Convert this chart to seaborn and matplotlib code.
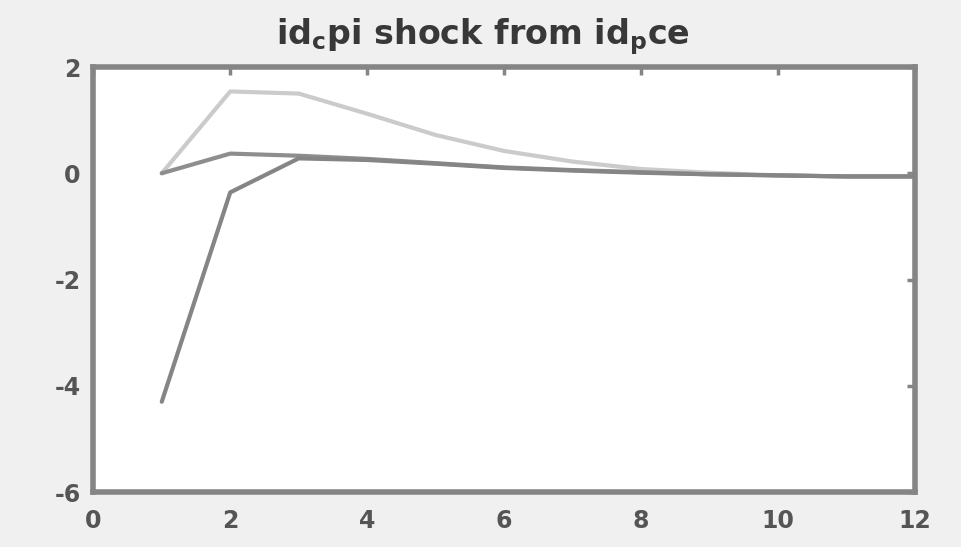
import numpy as np
import pandas as pd
import matplotlib
matplotlib.use("Agg")
import matplotlib.pyplot as plt
import seaborn as sns

# Impulse responses over 12 periods
periods = [1, 2, 3, 4, 5, 6, 7, 8, 9, 10, 11, 12]
upper_band = [0.0, 1.54, 1.50, 1.12, 0.72, 0.42, 0.22, 0.08, 0.01, -0.04, -0.06, -0.06]
median_resp = [0.0, 0.37, 0.33, 0.27, 0.19, 0.11, 0.06, 0.02, -0.02, -0.04, -0.06, -0.06]
lower_band = [-4.3, -0.36, 0.28, 0.25, 0.18, 0.10, 0.05, 0.01, -0.02, -0.04, -0.06, -0.06]

series_names = ["upper", "median", "lower"]
series_colors = ["#cbcbcb", "#8e8e8e", "#858585"]

x_ticks = [0, 2, 4, 6, 8, 10, 12]
y_ticks = [-6, -4, -2, 0, 2]

df = pd.concat([
    pd.DataFrame({"period": periods, "value": vals, "series": name})
    for name, vals in zip(series_names, [upper_band, median_resp, lower_band])
], ignore_index=True)

sns.set_style("white")
plt.rcParams["font.family"] = ["DejaVu Sans"]
plt.rcParams["mathtext.fontset"] = "dejavusans"

fig = plt.figure(figsize=(9.62, 5.47), dpi=100, facecolor="#f0f0f0")
ax = fig.add_axes([0.097, 0.1005, 0.854, 0.777])
ax.set_facecolor("white")

sns.lineplot(data=df, x="period", y="value", hue="series",
             palette=dict(zip(series_names, series_colors)),
             linewidth=3.0, legend=False, ax=ax)

ax.set_xlim(0, 12)
ax.set_ylim(-6, 2)
ax.set_xticks(x_ticks)
ax.set_yticks(y_ticks)
ax.set_xticklabels([str(t) for t in x_ticks])
ax.set_yticklabels([str(t) for t in y_ticks])
ax.set_xlabel("")
ax.set_ylabel("")

for sp in ax.spines.values():
    sp.set_visible(True)
    sp.set_color("#858585")
    sp.set_linewidth(4)

ax.tick_params(direction="in", length=6, width=2.5, color="#858585",
               top=True, right=True, labelsize=17, labelcolor="#555555")
ax.tick_params(axis="x", pad=12)
ax.tick_params(axis="y", pad=9)
for lab in ax.get_xticklabels() + ax.get_yticklabels():
    lab.set_fontweight("bold")

ax.set_title(r"id$_\mathbf{c}$pi shock from id$_\mathbf{p}$ce",
             fontsize=24, fontweight="bold", color="#383838", pad=16, x=0.474)

fig.savefig("out.png", dpi=100, facecolor=fig.get_facecolor())
